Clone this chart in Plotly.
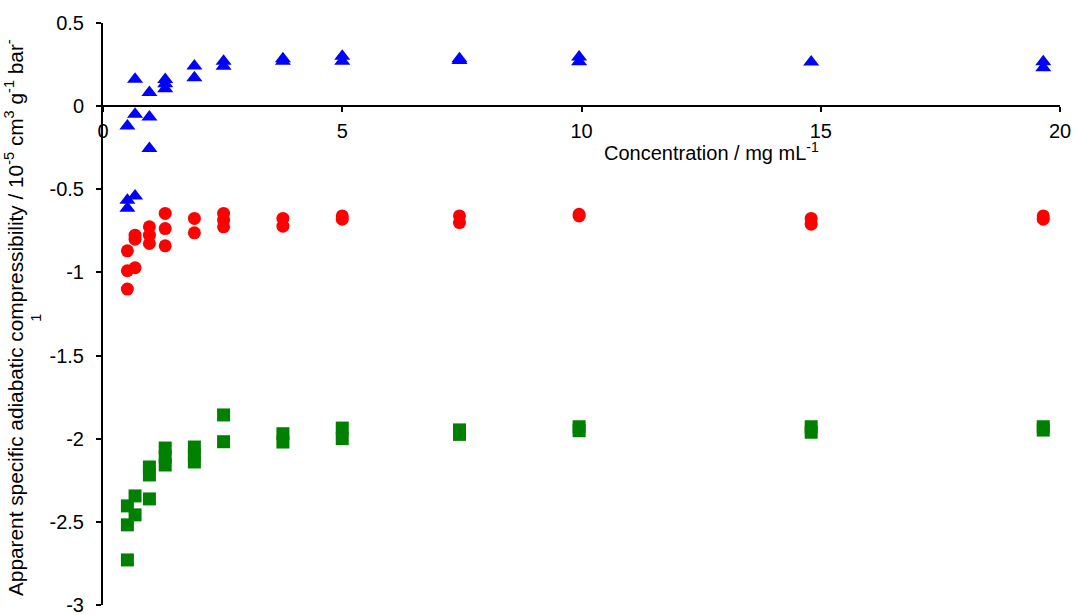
import plotly.graph_objects as go

# ---- data ----
tri_conc = [0.51, 0.51, 0.51, 0.67, 0.67, 0.67, 0.97, 0.97, 0.97, 1.30, 1.30, 1.30,
            1.91, 1.91, 2.52, 2.52, 3.76, 3.76, 5.0, 5.0, 7.45, 7.45, 9.95, 9.95,
            14.8, 19.65, 19.65]
tri_val = [-0.12, -0.566, -0.614, 0.162, -0.049, -0.541, 0.082, -0.065, -0.255,
           0.16, 0.135, 0.105, 0.242, 0.17, 0.27, 0.24, 0.285, 0.27, 0.30, 0.27,
           0.285, 0.275, 0.295, 0.267, 0.266, 0.267, 0.231]

circ_conc = [0.51, 0.51, 0.51, 0.67, 0.67, 0.67, 0.97, 0.97, 0.97, 1.30, 1.30, 1.30,
             1.91, 1.91, 2.52, 2.52, 2.52, 3.76, 3.76, 5.0, 5.0, 7.45, 7.45,
             9.95, 9.95, 14.8, 14.8, 19.65, 19.65]
circ_val = [-0.87, -0.99, -1.10, -0.776, -0.80, -0.972, -0.726, -0.776, -0.826,
            -0.645, -0.736, -0.84, -0.675, -0.762, -0.645, -0.686, -0.726,
            -0.675, -0.722, -0.66, -0.68, -0.66, -0.70, -0.65, -0.66,
            -0.675, -0.71, -0.66, -0.68]

sq_conc = [0.51, 0.51, 0.51, 0.67, 0.67, 0.97, 0.97, 0.97, 1.30, 1.30, 1.30,
           1.91, 1.91, 1.91, 2.52, 2.52, 3.76, 3.76, 5.0, 5.0, 7.45, 7.45,
           9.95, 9.95, 14.8, 14.8, 19.65, 19.65]
sq_val = [-2.404, -2.518, -2.729, -2.344, -2.458, -2.17, -2.218, -2.362,
          -2.056, -2.11, -2.158, -2.05, -2.098, -2.14, -1.857, -2.018,
          -1.97, -2.02, -1.936, -1.999, -1.947, -1.974, -1.928, -1.952,
          -1.928, -1.961, -1.928, -1.948]

x_ticks = [0, 5, 10, 15, 20]
x_ticktext = ["0", "5", "10", "15", "20"]
y_ticks = [0.5, 0, -0.5, -1, -1.5, -2, -2.5, -3]
y_ticktext = ["0.5", "0", "-0.5", "-1", "-1.5", "-2", "-2.5", "-3"]

x_title = "Concentration / mg mL<sup>-1</sup>"
y_title = ("Apparent specific adiabatic compressibility / 10<sup>-5</sup> cm<sup>3</sup> "
           "g<sup>-1</sup> bar<sup>-</sup><br><sup>1</sup>")

FONT = "Liberation Sans, Arial, sans-serif"
W, H = 1073, 615
ML, MR, MT, MB = 103, 13, 23, 10
YMIN, YMAX = -3, 0.5

fig = go.Figure()
fig.add_trace(go.Scatter(x=circ_conc, y=circ_val, mode="markers",
                         marker=dict(symbol="circle", size=13, color="#ff0000", line=dict(width=0))))
fig.add_trace(go.Scatter(x=sq_conc, y=sq_val, mode="markers",
                         marker=dict(symbol="square", size=13, color="#008000", line=dict(width=0))))
fig.add_trace(go.Scatter(x=tri_conc, y=tri_val, mode="markers",
                         marker=dict(symbol="triangle-up", size=14, color="#0000ff", line=dict(width=0))))

pw = W - ML - MR
ph = H - MT - MB

fig.update_layout(
    width=W, height=H,
    margin=dict(l=ML, r=MR, t=MT, b=MB, pad=0, autoexpand=False),
    paper_bgcolor="white", plot_bgcolor="white",
    showlegend=False,
    font=dict(family=FONT, size=20, color="black"),
    xaxis=dict(range=[0, 20], tickvals=x_ticks, ticktext=x_ticktext,
               showgrid=False, zeroline=False, showline=True, linecolor="black", linewidth=2,
               ticks="outside", ticklen=5, tickwidth=2, tickcolor="black",
               anchor="free", position=(0 - YMIN) / (YMAX - YMIN), automargin=False,
               tickfont=dict(size=20), ticklabelstandoff=2, ticklabeloverflow="allow"),
    yaxis=dict(range=[YMIN, YMAX], tickvals=y_ticks, ticktext=y_ticktext,
               showgrid=False, zeroline=False, showline=True, linecolor="black", linewidth=2,
               ticks="outside", ticklen=5, tickwidth=2, tickcolor="black", automargin=False,
               tickfont=dict(size=20), ticklabelstandoff=8, ticklabeloverflow="allow"),
    annotations=[
        dict(text=x_title, xref="paper", yref="paper",
             x=(711 - ML) / pw, y=(H - MB - 151) / ph,
             xanchor="center", yanchor="middle", showarrow=False,
             font=dict(size=20, family=FONT)),
        dict(text=y_title, xref="paper", yref="paper",
             x=(22 - ML) / pw, y=(H - MB - 318) / ph,
             xanchor="center", yanchor="middle", showarrow=False, textangle=-90,
             font=dict(size=20.8, family=FONT)),
    ],
)

fig.write_html("out.html", config={"displayModeBar": False},
               post_script="document.body.style.margin='0';")
